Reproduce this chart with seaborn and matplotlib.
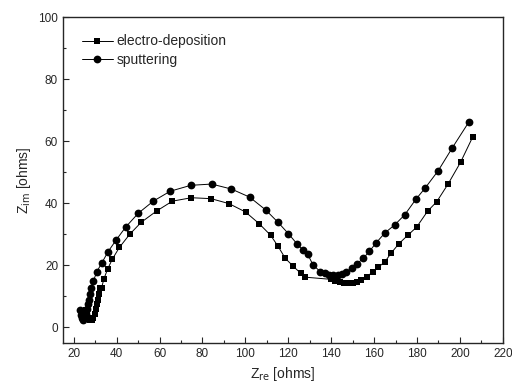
import numpy as np
import pandas as pd
import seaborn as sns
import matplotlib.pyplot as plt
from matplotlib.ticker import MultipleLocator

# electro-deposition (squares)
ed_re = [25.8, 26.3, 27.0, 27.8, 28.5, 29.2, 29.7, 30.2, 30.7, 31.2, 31.7, 32.4, 33.0, 34.1,
         35.8, 38.0, 41.3, 46.2, 51.5, 58.6, 66.0, 74.9, 84.0, 92.4, 100.1, 106.5, 111.8,
         115.3, 118.6, 122.2, 125.9, 128.0, 140.0, 142.0, 144.0, 146.0, 148.0, 150.0, 152.0,
         154.0, 156.6, 159.7, 162.0, 165.1, 168.0, 171.6, 175.7, 179.8, 185.0, 189.2, 194.4,
         200.3, 206.0]
ed_im = [5.5, 4.0, 3.0, 2.5, 2.5, 3.0, 4.5, 6.0, 7.5, 9.0, 10.8, 12.6, 12.8, 15.7,
         18.8, 22.0, 25.8, 30.1, 33.9, 37.5, 40.7, 41.8, 41.5, 39.9, 37.2, 33.4, 29.7,
         26.1, 22.3, 19.8, 17.4, 16.2, 15.5, 15.0, 14.6, 14.4, 14.3, 14.4, 14.7,
         15.3, 16.4, 18.0, 19.4, 21.2, 24.0, 27.0, 29.7, 32.3, 37.5, 40.5, 46.1,
         53.2, 61.4]

# sputtering (circles)
sp_re = [22.8, 23.3, 23.8, 24.4, 25.0, 25.5, 26.0, 26.5, 27.0, 27.5, 27.9, 29.2, 30.8, 33.2,
         36.0, 39.9, 44.3, 50.1, 57.1, 65.0, 74.6, 84.3, 93.5, 102.0, 109.6, 115.2, 120.1,
         124.0, 126.8, 129.0, 131.5, 134.9, 137.0, 139.0, 141.0, 143.0, 145.0, 147.0, 149.6,
         152.0, 155.0, 157.8, 160.9, 165.1, 169.7, 174.3, 179.5, 183.9, 189.9, 196.4, 204.2]
sp_im = [5.5, 4.0, 3.0, 2.3, 3.0, 4.5, 6.0, 7.5, 9.0, 10.8, 12.6, 15.0, 18.0, 20.9,
         24.4, 28.3, 32.4, 36.8, 40.7, 43.9, 45.8, 46.2, 44.6, 42.0, 37.8, 33.9, 30.2,
         27.0, 25.0, 23.7, 20.2, 18.0, 17.4, 17.0, 16.8, 16.9, 17.2, 17.8, 19.1,
         20.5, 22.3, 24.5, 27.2, 30.5, 33.1, 36.3, 41.3, 45.0, 50.5, 57.8, 66.2]

ed = pd.DataFrame({"zre": ed_re, "zim": ed_im})
sp = pd.DataFrame({"zre": sp_re, "zim": sp_im})

sns.set_style("ticks")
plt.rcParams["font.family"] = ["Liberation Sans", "DejaVu Sans"]
plt.rcParams["xtick.direction"] = "in"
plt.rcParams["ytick.direction"] = "in"

fig = plt.figure(figsize=(5.12, 3.88), dpi=100)
ax = fig.add_axes([0.123, 0.116, 0.859, 0.84])

sns.lineplot(data=ed, x="zre", y="zim", sort=False, estimator=None, color="black",
             marker="s", markersize=5, markeredgewidth=0, linewidth=0.7,
             label="electro-deposition", ax=ax)
sns.lineplot(data=sp, x="zre", y="zim", sort=False, estimator=None, color="black",
             marker="o", markersize=5.6, markeredgewidth=0, linewidth=0.7,
             label="sputtering", ax=ax)

ax.set_xlim(15, 220)
ax.set_ylim(-5, 100)
ax.xaxis.set_major_locator(MultipleLocator(20))
ax.xaxis.set_minor_locator(MultipleLocator(10))
ax.yaxis.set_major_locator(MultipleLocator(20))
ax.yaxis.set_minor_locator(MultipleLocator(10))
ax.tick_params(which="major", length=4, width=0.8, labelsize=8.5)
ax.tick_params(which="minor", length=2, width=0.8)
for s in ax.spines.values():
    s.set_linewidth(1.0)

ax.set_xlabel(r"Z$_{\rm re}$ [ohms]", fontsize=10, labelpad=4)
ax.set_ylabel(r"Z$_{\rm im}$ [ohms]", fontsize=10, labelpad=4)

ax.legend(loc="upper left", frameon=False, fontsize=10, handlelength=2.2,
          handletextpad=0.3, labelspacing=0.3, bbox_to_anchor=(0.015, 0.985))

fig.savefig("out.png", dpi=100)
